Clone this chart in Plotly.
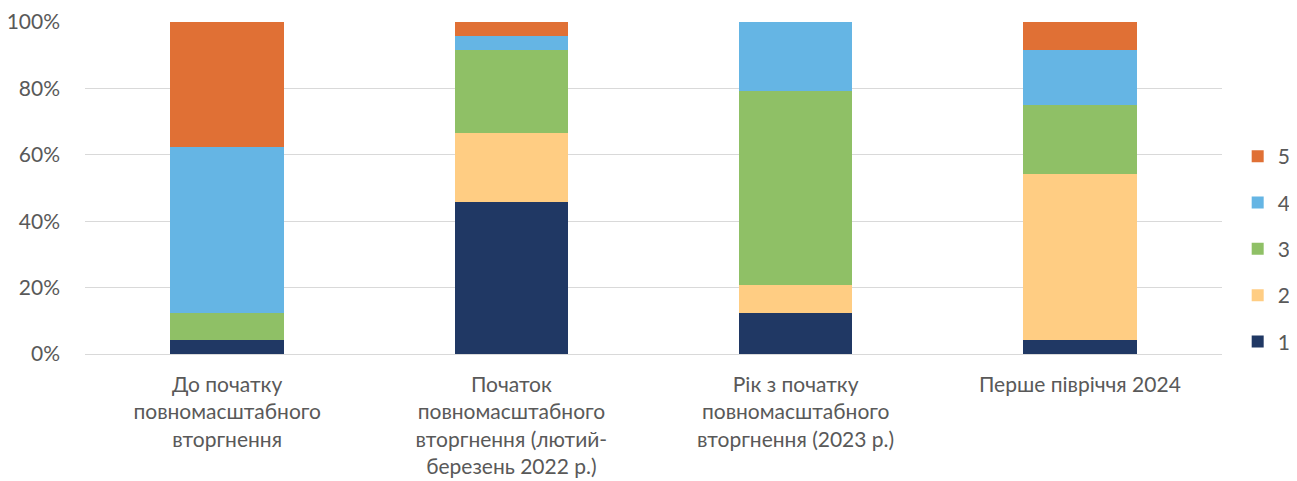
import plotly.graph_objects as go

categories = [
    "До початку<br>повномасштабного<br>вторгнення",
    "Початок<br>повномасштабного<br>вторгнення (лютий-<br>березень 2022 р.)",
    "Рік з початку<br>повномасштабного<br>вторгнення (2023 р.)",
    "Перше півріччя 2024",
]
series_names = ["1", "2", "3", "4", "5"]
s1 = [4.17, 45.83, 12.5, 4.17]
s2 = [0.0, 20.83, 8.33, 50.0]
s3 = [8.33, 25.0, 58.33, 20.83]
s4 = [50.0, 4.17, 20.83, 16.67]
s5 = [37.5, 4.17, 0.0, 8.33]
colors = ["#203864", "#FFCD83", "#8FC066", "#65B5E4", "#E07035"]
tick_vals = [0, 20, 40, 60, 80, 100]
tick_text = ["0%", "20%", "40%", "60%", "80%", "100%"]

font_family = "Lato, Open Sans, sans-serif"
fig = go.Figure()
for i, (name, vals, col) in enumerate(zip(series_names, [s1, s2, s3, s4, s5], colors)):
    fig.add_trace(go.Bar(
        x=list(range(len(categories))), y=vals, name=name,
        marker=dict(color=col, line=dict(width=0)),
        width=0.4, legendgroup=name, legendrank=len(series_names) - i,
    ))

fig.update_layout(
    barmode="stack",
    width=1281, height=473,
    margin=dict(l=77, r=67, t=14, b=127, autoexpand=False),
    plot_bgcolor="white", paper_bgcolor="white",
    font=dict(family=font_family, size=21, color="#595959"),
    legend=dict(x=1.0138, y=0.316, xanchor="left", yanchor="middle",
                traceorder="grouped", tracegroupgap=16,
                font=dict(size=21, color="#595959"),
                itemwidth=30),
    showlegend=True,
)
fig.update_xaxes(
    tickvals=list(range(len(categories))), ticktext=categories,
    range=[-0.5, 3.5], showgrid=False, showline=False, ticks="",
    tickfont=dict(size=21, color="#595959"), automargin=False,
    ticklabelstandoff=16,
)
fig.update_yaxes(
    range=[0, 100], tickvals=tick_vals, ticktext=tick_text,
    showgrid=True, gridcolor="#D9D9D9", gridwidth=1,
    zeroline=True, zerolinecolor="#D9D9D9", zerolinewidth=1,
    showline=False, ticks="", tickfont=dict(size=21, color="#595959"),
    ticklabelstandoff=24, automargin=False,
)
fig.write_html("out.html")
